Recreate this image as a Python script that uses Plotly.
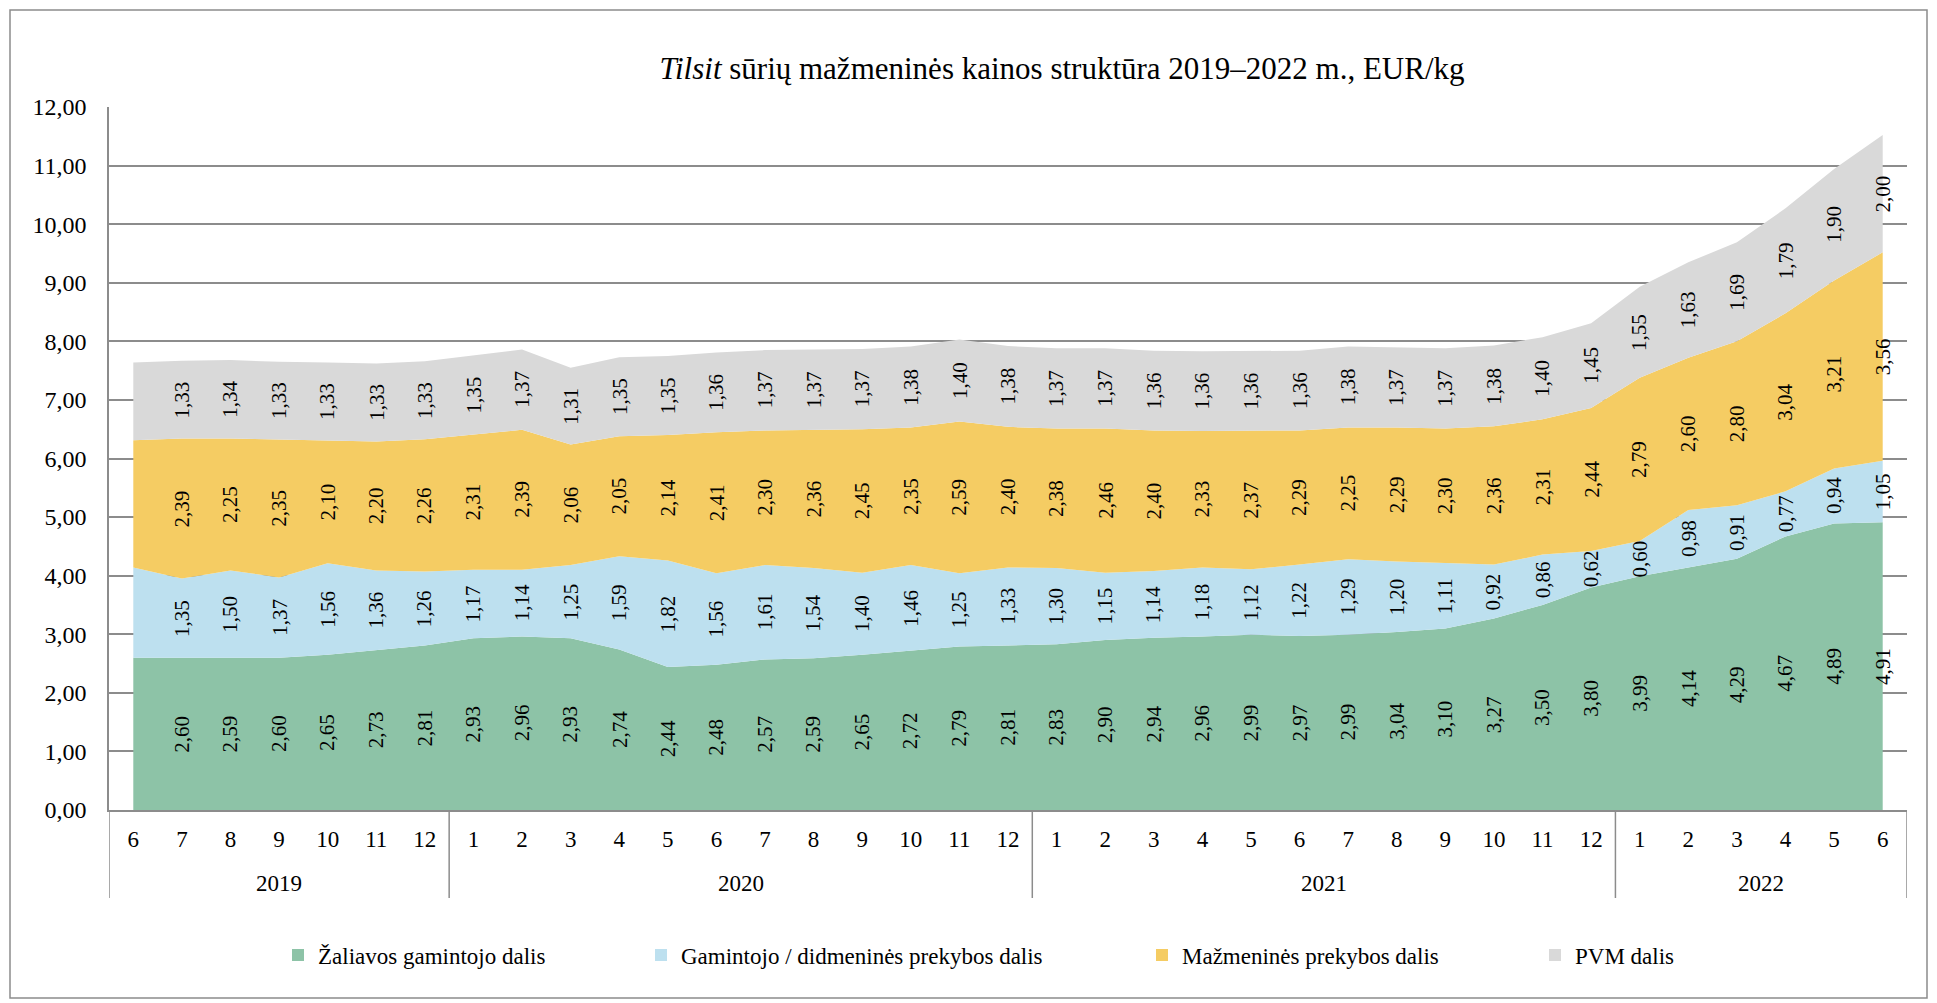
import plotly.graph_objects as go

# ---- data ----
months = ["6", "7", "8", "9", "10", "11", "12",
          "1", "2", "3", "4", "5", "6", "7", "8", "9", "10", "11", "12",
          "1", "2", "3", "4", "5", "6", "7", "8", "9", "10", "11", "12",
          "1", "2", "3", "4", "5", "6"]
years = ["2019", "2020", "2021", "2022"]
year_counts = [7, 12, 12, 6]

zaliavos = [2.60, 2.60, 2.59, 2.60, 2.65, 2.73, 2.81,
            2.93, 2.96, 2.93, 2.74, 2.44, 2.48, 2.57, 2.59, 2.65, 2.72, 2.79, 2.81,
            2.83, 2.90, 2.94, 2.96, 2.99, 2.97, 2.99, 3.04, 3.10, 3.27, 3.50, 3.80,
            3.99, 4.14, 4.29, 4.67, 4.89, 4.91]
gamintojo = [1.54, 1.35, 1.50, 1.37, 1.56, 1.36, 1.26,
             1.17, 1.14, 1.25, 1.59, 1.82, 1.56, 1.61, 1.54, 1.40, 1.46, 1.25, 1.33,
             1.30, 1.15, 1.14, 1.18, 1.12, 1.22, 1.29, 1.20, 1.11, 0.92, 0.86, 0.62,
             0.60, 0.98, 0.91, 0.77, 0.94, 1.05]
mazmenines = [2.17, 2.39, 2.25, 2.35, 2.10, 2.20, 2.26,
              2.31, 2.39, 2.06, 2.05, 2.14, 2.41, 2.30, 2.36, 2.45, 2.35, 2.59, 2.40,
              2.38, 2.46, 2.40, 2.33, 2.37, 2.29, 2.25, 2.29, 2.30, 2.36, 2.31, 2.44,
              2.79, 2.60, 2.80, 3.04, 3.21, 3.56]
pvm = [1.33, 1.33, 1.34, 1.33, 1.33, 1.33, 1.33,
       1.35, 1.37, 1.31, 1.35, 1.35, 1.36, 1.37, 1.37, 1.37, 1.38, 1.40, 1.38,
       1.37, 1.37, 1.36, 1.36, 1.36, 1.36, 1.38, 1.37, 1.37, 1.38, 1.40, 1.45,
       1.55, 1.63, 1.69, 1.79, 1.90, 2.00]
labelled_from = 1  # first month has no data labels in the original

series_names = ["Žaliavos gamintojo dalis", "Gamintojo / didmeninės prekybos dalis",
                "Mažmeninės prekybos dalis", "PVM dalis"]
series_values = [zaliavos, gamintojo, mazmenines, pvm]
colors = ["#8DC3A7", "#BDE0EF", "#F5CC63", "#D9D9D9"]

# ---- layout constants ----
W, H = 1937, 1003
L, R, T, B = 109, 30, 107, 193
PW, PH = W - L - R, H - T - B
FONT = "Liberation Serif, Times New Roman, serif"
GRID = "#8c8c8c"


def px_x(px):
    return (px - L) / PW


def px_y(py):
    return (H - B - py) / PH


x = list(range(len(months)))
fig = go.Figure()

for name, vals, col in zip(series_names, series_values, colors):
    fig.add_trace(go.Scatter(
        x=x, y=vals, name=name, mode="lines", stackgroup="one",
        line=dict(width=0, color=col), fillcolor=col, showlegend=False,
        hoverinfo="skip"))

# legend entries (one legend each to reproduce spacing)
legend_text_start = [317, 680, 1181, 1574]
for i, (name, col) in enumerate(zip(series_names, colors)):
    lg = "legend" if i == 0 else f"legend{i + 1}"
    fig.add_trace(go.Scatter(
        x=[None], y=[None], mode="markers", name=name, legend=lg,
        marker=dict(symbol="square", size=12, color=col), showlegend=True))
    fig.update_layout({lg: dict(
        x=px_x(legend_text_start[i] - 39), xanchor="left",
        y=px_y(955), yanchor="middle", orientation="h",
        font=dict(family=FONT, size=23, color="black"),
        bgcolor="rgba(0,0,0,0)", itemwidth=30)})

# data labels centred in each band
annotations = []
base = [0.0] * len(x)
for vals in series_values:
    for i, v in enumerate(vals):
        if i >= labelled_from:
            annotations.append(dict(
                x=i, y=base[i] + v / 2, xref="x", yref="y",
                text=f"{v:.2f}".replace(".", ","), textangle=-90,
                showarrow=False, font=dict(family=FONT, size=21, color="black")))
    base = [b + v for b, v in zip(base, vals)]

# year labels and dividers
shapes = []
start = 0
for yr, n in zip(years, year_counts):
    annotations.append(dict(
        x=start + (n - 1) / 2, y=px_y(884), xref="x", yref="paper",
        text=yr, showarrow=False, yanchor="middle",
        font=dict(family=FONT, size=23, color="black")))
    start += n
edges = [-0.5]
acc = -0.5
for n in year_counts:
    acc += n
    edges.append(acc)
for e in edges:
    shapes.append(dict(type="line", xref="x", yref="paper", x0=e, x1=e,
                       y0=0, y1=px_y(898), line=dict(color=GRID, width=1.5)))

# outer chart border
shapes.append(dict(type="rect", xref="paper", yref="paper",
                   x0=px_x(10), x1=px_x(1927), y0=px_y(998), y1=px_y(10),
                   line=dict(color=GRID, width=1.5), fillcolor="rgba(0,0,0,0)",
                   layer="below"))

fig.update_layout(
    width=W, height=H,
    margin=dict(l=L, r=R, t=T, b=B),
    paper_bgcolor="white", plot_bgcolor="white",
    separators=", ",
    title=dict(text="<i>Tilsit</i> sūrių mažmeninės kainos struktūra 2019–2022 m., EUR/kg",
               x=px_x(1062), xref="paper", xanchor="center",
               y=1 - 68 / H, yref="container", yanchor="middle",
               font=dict(family=FONT, size=31, color="black")),
    xaxis=dict(range=[-0.5, len(x) - 0.5], tickmode="array", tickvals=x, ticktext=months,
               showgrid=False, zeroline=False, showline=True, linecolor=GRID, linewidth=1.5,
               ticks="", ticklabelstandoff=8,
               tickfont=dict(family=FONT, size=23, color="black")),
    yaxis=dict(range=[0, 12], dtick=1, tickformat=".2f", showgrid=True, gridcolor=GRID,
               gridwidth=1.5, zeroline=False, showline=True, linecolor=GRID, linewidth=1.5,
               ticks="", ticklabelstandoff=16,
               tickfont=dict(family=FONT, size=24, color="black")),
    annotations=annotations,
    shapes=shapes,
    hovermode=False,
)

fig.write_html("out.html", config={"displayModeBar": False},
               post_script="document.body.style.margin='0px';")
